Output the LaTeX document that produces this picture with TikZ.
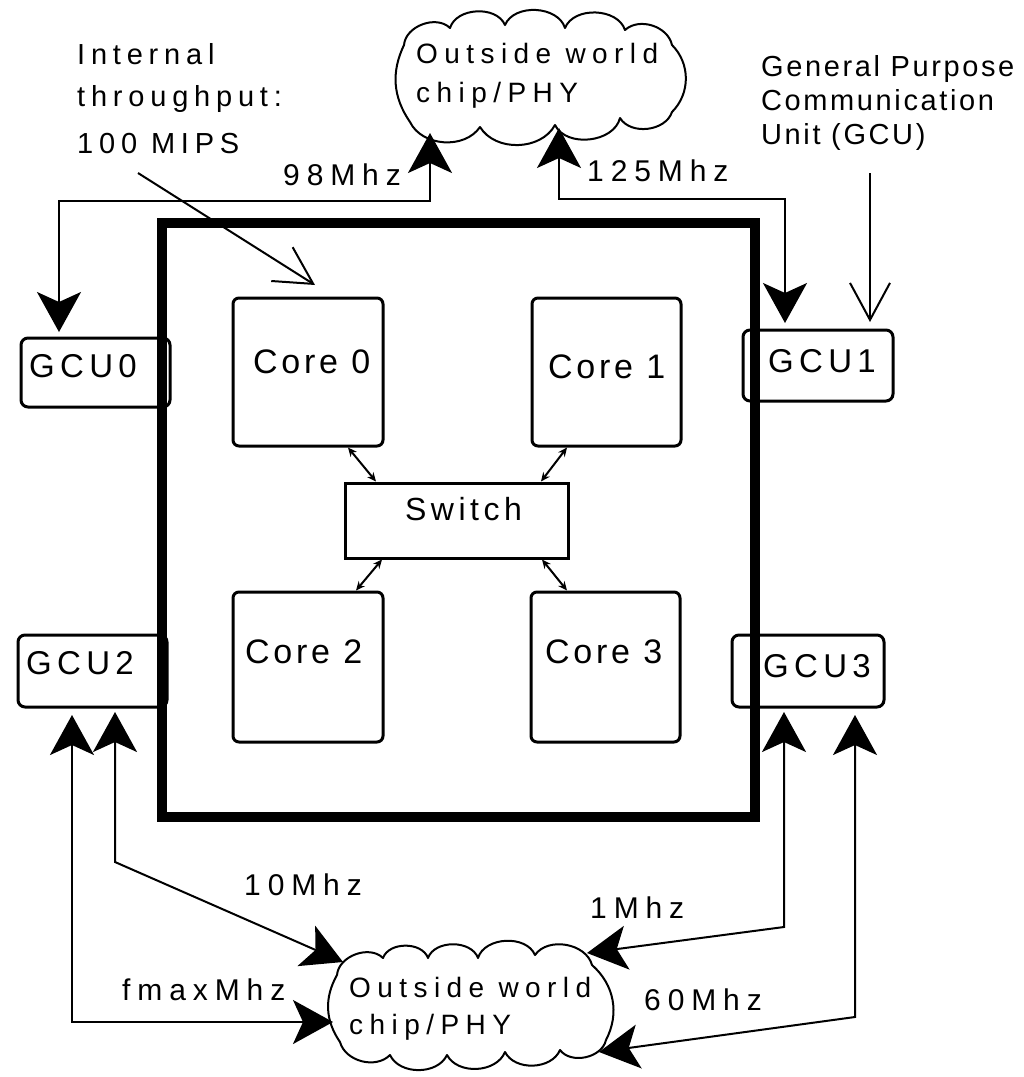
\documentclass[tikz,border=0pt]{standalone}
\usepackage{fontspec}
\setmainfont{Liberation Sans}
\newfontfamily\fntMhz[LetterSpace=23]{Liberation Sans}
\newfontfamily\fntIntl[LetterSpace=20]{Liberation Sans}
\newfontfamily\fntGen[LetterSpace=9]{Liberation Sans}
\newfontfamily\fntGcu[LetterSpace=16]{Liberation Sans}
\newfontfamily\fntCore[LetterSpace=11]{Liberation Sans}
\newfontfamily\fntSw[LetterSpace=14]{Liberation Sans}
\usetikzlibrary{arrows.meta}
\begin{document}
\begin{tikzpicture}[x=1pt,y=-1pt,
  txt/.style={inner sep=0pt,anchor=base west},
  mhz/.style={txt,font={\fntMhz\fontsize{30}{36}\selectfont}},
  cloudtxt/.style={txt,font={\fntMhz\fontsize{28}{34}\selectfont}},
  intl/.style={txt,font={\fntIntl\fontsize{29}{35}\selectfont}},
  gen/.style={txt,font={\fntGen\fontsize{29}{35}\selectfont}},
  gcutxt/.style={txt,font={\fntGcu\fontsize{33}{40}\selectfont}},
  coretxt/.style={txt,font={\fntCore\fontsize{34}{40}\selectfont}},
  swtxt/.style={txt,font={\fntSw\fontsize{32}{38}\selectfont}},
  corebox/.style={draw,line width=3pt,rounded corners=6pt,inner sep=0pt},
  gcubox/.style={draw,line width=3pt,rounded corners=7pt,inner sep=0pt},
  cloudarea/.style={inner sep=0pt},
  cloudline/.style={line width=2pt,line join=round,line cap=round},
  bigboth/.style={line width=2pt,{Stealth[length=40pt,width=44pt,inset=10pt]}-{Stealth[length=40pt,width=44pt,inset=10pt]}},
  openarr/.style={line width=2pt,-{Straight Barb[length=37pt,width=40pt,line width=2pt]}},
  smallboth/.style={line width=2pt,{Stealth[length=9pt,width=8pt]}-{Stealth[length=9pt,width=8pt]}}
]
\useasboundingbox (0,0) rectangle (1024,1077);

% top cloud
\node[cloudarea,minimum width=292pt,minimum height=137pt] (cT) at (543,77) {};
\draw[cloudline] (410,122) to[bend left=30] (404,45) to[bend left=65] (450,28)
  to[bend left=70] (505,25) to[bend left=70] (565,28) to[bend left=70] (625,30)
  to[bend left=60] (672,45) to[bend left=45] (672,112) to[bend left=65] (620,118)
  to[bend left=70] (555,125) to[bend left=60] (480,127) to[bend left=60] (410,122);
\node[cloudtxt] (cT1) at (416,63) {Outside world};
\node[cloudtxt] (cT2) at (416,102) {chip/PHY};

% bottom cloud
\node[cloudarea,minimum width=294pt,minimum height=132pt] (cB) at (475,1011) {};
\draw[cloudline] (340,1042) to[bend left=32] (337,975) to[bend left=65] (383,958)
  to[bend left=70] (428,958) to[bend left=70] (478,958) to[bend left=70] (535,955)
  to[bend left=65] (592,965) to[bend left=38] (606,1040) to[bend left=65] (560,1050)
  to[bend left=65] (505,1052) to[bend left=65] (447,1055) to[bend left=65] (390,1055)
  to[bend left=60] (340,1042);
\node[cloudtxt] (cB1) at (349,997) {Outside world};
\node[cloudtxt] (cB2) at (349,1034) {chip/PHY};

% GCU boxes
\node[gcubox,minimum width=149pt,minimum height=69pt] (g0) at (95.5,372.5) {};
\node[gcubox,minimum width=150pt,minimum height=71pt] (g1) at (818,365.5) {};
\node[gcubox,minimum width=149pt,minimum height=72pt] (g2) at (92.5,671) {};
\node[gcubox,minimum width=152pt,minimum height=72pt] (g3) at (808,671) {};
\node[gcutxt] (g0t) at (29,377) {GCU0};
\node[gcutxt] (g1t) at (768,372) {GCU1};
\node[gcutxt] (g2t) at (26,674) {GCU2};
\node[gcutxt] (g3t) at (763,677) {GCU3};

% chip
\node[draw,line width=10pt,minimum width=593pt,minimum height=594pt,inner sep=0pt] (chip) at (458.5,520) {};

% cores and switch
\node[corebox,minimum width=150pt,minimum height=148pt] (c0) at (308,372) {};
\node[corebox,minimum width=149pt,minimum height=148pt] (c1) at (606.5,372) {};
\node[corebox,minimum width=150pt,minimum height=150pt] (c2) at (308,667) {};
\node[corebox,minimum width=149pt,minimum height=150pt] (c3) at (605.5,667) {};
\node[draw,line width=3pt,minimum width=223pt,minimum height=75pt,inner sep=0pt] (sw) at (456.5,520.5) {};
\node[coretxt] (c0t) at (253,373) {Core 0};
\node[coretxt] (c1t) at (548,378) {Core 1};
\node[coretxt] (c2t) at (245,663) {Core 2};
\node[coretxt] (c3t) at (545,663) {Core 3};
\node[swtxt] (swt) at (405,520) {Switch};

\draw[smallboth] (c0.south -| 348,0) -- (sw.north -| 376,0);
\draw[smallboth] (c1.south -| 567,0) -- (sw.north -| 541,0);
\draw[smallboth] (sw.south -| 382,0) -- (c2.north -| 356,0);
\draw[smallboth] (sw.south -| 542,0) -- (c3.north -| 567,0);

% annotations
\node[intl] (in1) at (77,64) {Internal};
\node[intl] (in2) at (77,106) {throughput:};
\node[intl] (in3) at (77,153) {100 MIPS};
\node[gen] (ge1) at (761,76) {General Purpose};
\node[gen] (ge2) at (761,110) {Communication};
\node[gen] (ge3) at (761,144) {Unit (GCU)};
\coordinate (inS) at (138,173);
\coordinate (inE) at (315,285);
\draw[openarr] (inS) -- (inE);
\coordinate (geS) at (870,173);
\coordinate (geE) at (870,322);
\draw[openarr] (geS) -- (geE);

% frequency labels
\node[mhz] (l98) at (283,185) {98Mhz};
\node[mhz] (l125) at (587,181) {125Mhz};
\node[mhz] (l10) at (244,895) {10Mhz};
\node[mhz] (lfm) at (122,1000) {fmaxMhz};
\node[mhz] (l1) at (590,918) {1Mhz};
\node[mhz] (l60) at (644,1010) {60Mhz};

% connectors
\coordinate (a98g) at (59,332);
\coordinate (a98c) at (430,133);
\draw[bigboth] (a98g) |- (430,201) -- (a98c);
\coordinate (a125c) at (559,128);
\coordinate (a125g) at (785,323);
\draw[bigboth] (a125c) |- (785,199) -- (a125g);
\coordinate (afmg) at (72,715);
\coordinate (afmc) at (333,1022);
\draw[bigboth] (afmg) |- (afmc);
\coordinate (a10g) at (115,712);
\coordinate (a10c) at (343,962);
\draw[bigboth] (a10g) -- (115,862) -- (a10c);
\coordinate (a1g) at (784,712);
\coordinate (a1c) at (587,953);
\draw[bigboth] (a1g) -- (784,927) -- (a1c);
\coordinate (a60g) at (855,715);
\coordinate (a60c) at (599,1052);
\draw[bigboth] (a60g) -- (855,1017) -- (a60c);
\end{tikzpicture}
\end{document}
